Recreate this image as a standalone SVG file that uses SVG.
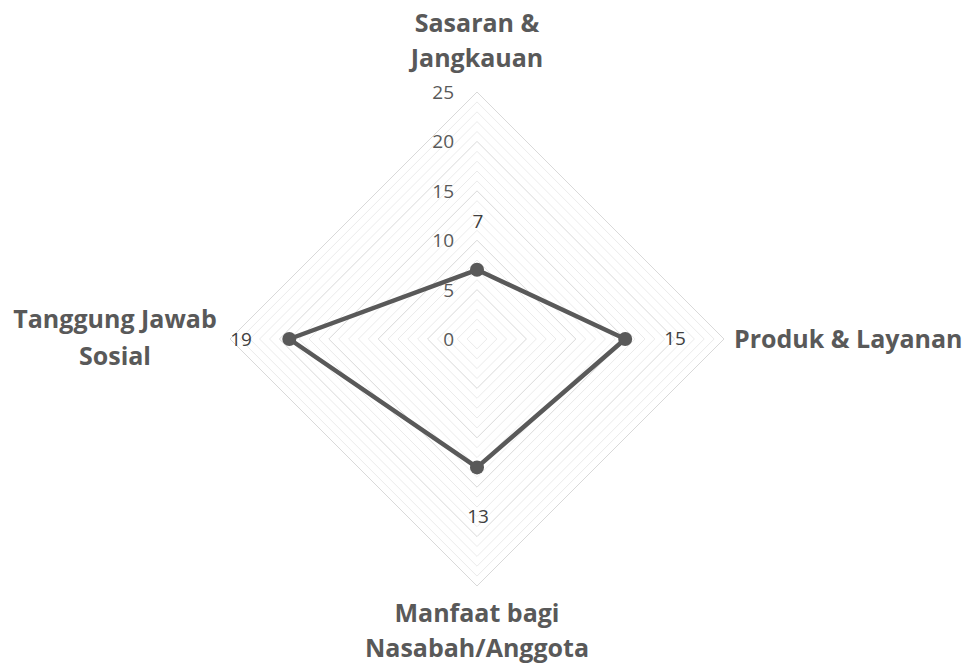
<svg xmlns="http://www.w3.org/2000/svg" width="968" height="666" viewBox="0 0 968 666">
<style>
.minor{fill:none;stroke:#ebebeb;stroke-width:1}
.major{fill:none;stroke:#d9d9d9;stroke-width:1}
.tick{font-family:"Open Sans","Liberation Sans",sans-serif;font-size:19px;fill:#595959}
.dl{font-family:"Open Sans","Liberation Sans",sans-serif;font-size:19px;fill:#404040}
.cat{font-family:"Open Sans","Liberation Sans",sans-serif;font-weight:bold;font-size:25px;fill:#595959}
.series{fill:none;stroke:#595959;stroke-width:4.5;stroke-linejoin:round}
.pt{fill:#595959}
</style>
<rect width="968" height="666" fill="#ffffff"/>
<g id="grid">
<path class="minor" d="M477 329.1L486.9 339L477 348.9L467.1 339Z"/>
<path class="minor" d="M477 319.2L496.8 339L477 358.8L457.2 339Z"/>
<path class="minor" d="M477 309.4L506.6 339L477 368.6L447.4 339Z"/>
<path class="minor" d="M477 299.5L516.5 339L477 378.5L437.5 339Z"/>
<path class="major" d="M477 289.6L526.4 339L477 388.4L427.6 339Z"/>
<path class="minor" d="M477 279.7L536.3 339L477 398.3L417.7 339Z"/>
<path class="minor" d="M477 269.8L546.2 339L477 408.2L407.8 339Z"/>
<path class="minor" d="M477 260L556 339L477 418L398 339Z"/>
<path class="minor" d="M477 250.1L565.9 339L477 427.9L388.1 339Z"/>
<path class="major" d="M477 240.2L575.8 339L477 437.8L378.2 339Z"/>
<path class="minor" d="M477 230.3L585.7 339L477 447.7L368.3 339Z"/>
<path class="minor" d="M477 220.4L595.6 339L477 457.6L358.4 339Z"/>
<path class="minor" d="M477 210.6L605.4 339L477 467.4L348.6 339Z"/>
<path class="minor" d="M477 200.7L615.3 339L477 477.3L338.7 339Z"/>
<path class="major" d="M477 190.8L625.2 339L477 487.2L328.8 339Z"/>
<path class="minor" d="M477 180.9L635.1 339L477 497.1L318.9 339Z"/>
<path class="minor" d="M477 171L645 339L477 507L309 339Z"/>
<path class="minor" d="M477 161.2L654.8 339L477 516.8L299.2 339Z"/>
<path class="minor" d="M477 151.3L664.7 339L477 526.7L289.3 339Z"/>
<path class="major" d="M477 141.4L674.6 339L477 536.6L279.4 339Z"/>
<path class="minor" d="M477 131.5L684.5 339L477 546.5L269.5 339Z"/>
<path class="minor" d="M477 121.6L694.4 339L477 556.4L259.6 339Z"/>
<path class="minor" d="M477 111.8L704.2 339L477 566.2L249.8 339Z"/>
<path class="minor" d="M477 101.9L714.1 339L477 576.1L239.9 339Z"/>
<path class="major" d="M477 92L724 339L477 586L230 339Z"/>
</g>
<g id="ticks" text-anchor="end">
<text class="tick" x="454" y="346">0</text>
<text class="tick" x="454" y="297">5</text>
<text class="tick" x="454" y="247">10</text>
<text class="tick" x="454" y="198">15</text>
<text class="tick" x="454" y="148">20</text>
<text class="tick" x="454" y="99">25</text>
</g>
<g id="connectors">
<path class="series" d="M477 269.8L625.2 339L477 467.4L289.3 339Z"/>
</g>
<g id="point-sasaran"><circle class="pt" cx="477" cy="269.8" r="7"/><text class="dl" x="478" y="228" text-anchor="middle">7</text></g>
<g id="point-produk"><circle class="pt" cx="625.2" cy="339" r="7"/><text class="dl" x="675" y="345" text-anchor="middle">15</text></g>
<g id="point-manfaat"><circle class="pt" cx="477" cy="467.4" r="7"/><text class="dl" x="478" y="523" text-anchor="middle">13</text></g>
<g id="point-tanggung"><circle class="pt" cx="289.3" cy="339" r="7"/><text class="dl" x="241" y="346" text-anchor="middle">19</text></g>
<g id="label-sasaran" text-anchor="middle">
<text class="cat" x="477" y="32">Sasaran &amp;</text>
<text class="cat" x="477" y="67">Jangkauan</text>
</g>
<g id="label-produk">
<text class="cat" x="734" y="348">Produk &amp; Layanan</text>
</g>
<g id="label-manfaat" text-anchor="middle">
<text class="cat" x="477" y="622">Manfaat bagi</text>
<text class="cat" x="477" y="657">Nasabah/Anggota</text>
</g>
<g id="label-tanggung" text-anchor="middle">
<text class="cat" x="115" y="328">Tanggung Jawab</text>
<text class="cat" x="115" y="365">Sosial</text>
</g>
</svg>
